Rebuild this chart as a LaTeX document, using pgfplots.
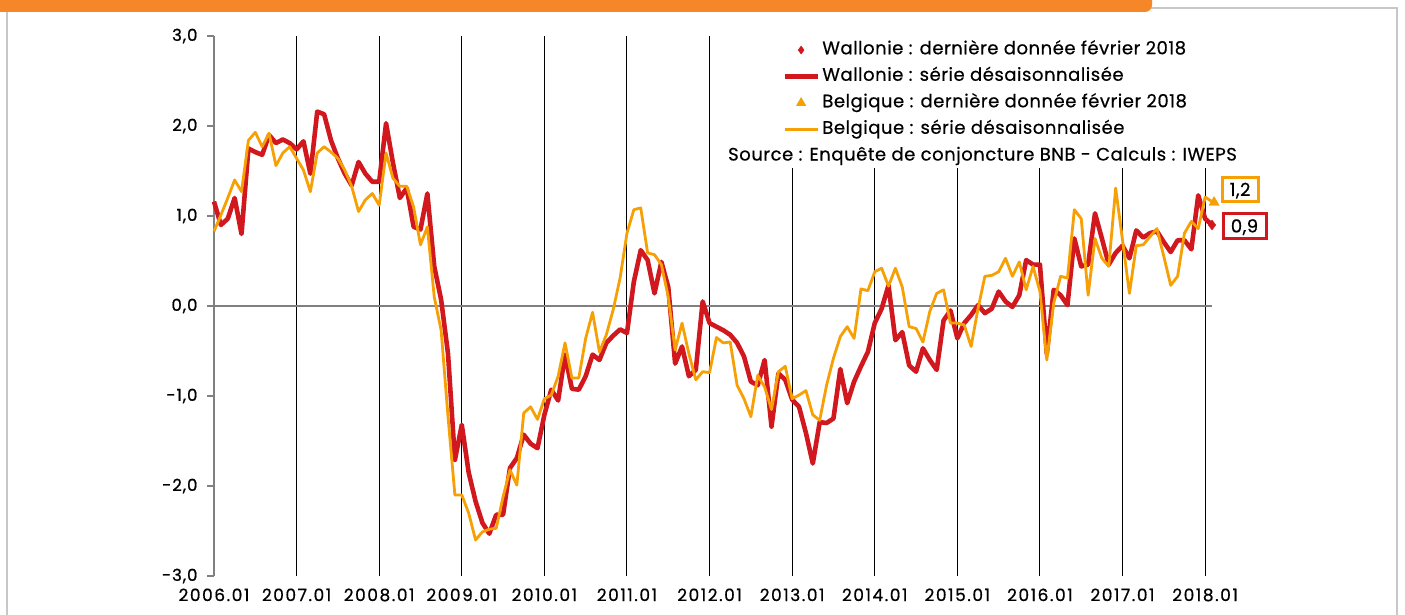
\documentclass[border=0pt]{standalone}
\usepackage{pgfplots}
\pgfplotsset{compat=1.18}
\usepackage{pgfplotstable}
\usepackage{fontspec}
\setmainfont{Poppins}[FakeBold=0.5]
\newfontfamily\legfont{Poppins}[FakeBold=0.5, LetterSpace=3]
\newfontfamily\xfont{Poppins}[FakeBold=0.6, LetterSpace=9]
\newfontfamily\yfont{Poppins}[FakeBold=0.9, LetterSpace=6]
\definecolor{wred}{RGB}{208,24,30}
\definecolor{borange}{RGB}{247,160,5}
\definecolor{barorange}{RGB}{245,135,40}

\pgfplotstableread{
i W B
0 1.16 0.83
1 0.90 1.01
2 0.97 1.20
3 1.20 1.40
4 0.80 1.27
5 1.75 1.84
6 1.71 1.93
7 1.68 1.77
8 1.90 1.92
9 1.81 1.56
10 1.85 1.70
11 1.81 1.77
12 1.74 1.64
13 1.83 1.51
14 1.47 1.27
15 2.16 1.70
16 2.13 1.77
17 1.84 1.71
18 1.64 1.64
19 1.47 1.51
20 1.34 1.33
21 1.60 1.05
22 1.47 1.18
23 1.38 1.25
24 1.38 1.12
25 2.03 1.70
26 1.59 1.42
27 1.20 1.33
28 1.31 1.33
29 0.88 1.10
30 0.85 0.68
31 1.25 0.88
32 0.44 0.10
33 0.07 -0.27
34 -0.53 -1.23
35 -1.71 -2.10
36 -1.32 -2.10
37 -1.85 -2.30
38 -2.17 -2.60
39 -2.41 -2.51
40 -2.53 -2.48
41 -2.32 -2.47
42 -2.32 -2.12
43 -1.80 -1.82
44 -1.69 -1.99
45 -1.43 -1.19
46 -1.53 -1.12
47 -1.58 -1.26
48 -1.21 -1.03
49 -0.93 -0.99
50 -1.05 -0.78
51 -0.54 -0.41
52 -0.92 -0.80
53 -0.93 -0.80
54 -0.78 -0.36
55 -0.54 -0.07
56 -0.60 -0.51
57 -0.41 -0.32
58 -0.33 -0.04
59 -0.26 0.31
60 -0.30 0.81
61 0.27 1.07
62 0.62 1.09
63 0.51 0.59
64 0.14 0.57
65 0.49 0.46
66 0.21 0.10
67 -0.64 -0.49
68 -0.45 -0.19
69 -0.78 -0.53
70 -0.71 -0.82
71 0.05 -0.73
72 -0.19 -0.74
73 -0.23 -0.35
74 -0.27 -0.41
75 -0.32 -0.40
76 -0.41 -0.88
77 -0.56 -1.03
78 -0.84 -1.23
79 -0.88 -0.77
80 -0.60 -0.90
81 -1.34 -1.15
82 -0.75 -0.73
83 -0.82 -0.67
84 -1.04 -1.03
85 -1.12 -0.99
86 -1.41 -0.94
87 -1.75 -1.21
88 -1.29 -1.27
89 -1.30 -0.88
90 -1.25 -0.58
91 -0.70 -0.34
92 -1.08 -0.23
93 -0.84 -0.36
94 -0.67 0.19
95 -0.51 0.17
96 -0.19 0.38
97 -0.03 0.42
98 0.23 0.22
99 -0.38 0.42
100 -0.29 0.21
101 -0.66 -0.23
102 -0.73 -0.25
103 -0.47 -0.40
104 -0.60 -0.06
105 -0.71 0.14
106 -0.16 0.18
107 -0.05 -0.19
108 -0.36 -0.19
109 -0.19 -0.21
110 -0.10 -0.45
111 0.01 -0.03
112 -0.08 0.33
113 -0.03 0.34
114 0.16 0.38
115 0.05 0.53
116 -0.01 0.33
117 0.12 0.49
118 0.51 0.18
119 0.46 0.44
120 0.46 0.16
121 -0.53 -0.60
122 0.18 0.03
123 0.12 0.33
124 0.01 0.31
125 0.75 1.07
126 0.44 0.97
127 0.46 0.12
128 1.03 0.75
129 0.75 0.53
130 0.46 0.44
131 0.59 1.31
132 0.67 0.73
133 0.53 0.14
134 0.84 0.67
135 0.76 0.68
136 0.81 0.77
137 0.83 0.86
138 0.71 0.55
139 0.60 0.23
140 0.73 0.33
141 0.73 0.81
142 0.63 0.94
143 1.23 0.86
144 0.97 1.21
145 0.90 1.16
}\data

\begin{document}
\begin{tikzpicture}[x=1pt,y=1pt]
\useasboundingbox (0,0) rectangle (1405,615);
\fill[white] (0,0) rectangle (1405,615);
\draw[black!22, line width=1.5pt] (7,-10) -- (7,607) -- (1397,607) -- (1397,-10);
\fill[barorange, rounded corners=7pt] (-10,603) rectangle (1152,630);
\begin{axis}[
  at={(214pt,39pt)}, anchor=south west,
  scale only axis, width=998pt, height=540pt,
  xmin=0, xmax=145, ymin=-3, ymax=3,
  clip=false,
  axis x line*=bottom, axis y line*=left,
  axis line style={-},
  x axis line style={draw=none},
  y axis line style={draw=gray, line width=1.6pt},
  xtick={0,12,...,144},
  xticklabels={2006.01,2007.01,2008.01,2009.01,2010.01,2011.01,2012.01,2013.01,2014.01,2015.01,2016.01,2017.01,2018.01},
  xtick style={draw=none},
  xmajorgrids, x grid style={black, line width=1pt},
  ytick={-3,-2,-1,0,1,2,3},
  yticklabels={{-3,0},{-2,0},{-1,0},{0,0},{1,0},{2,0},{3,0}},
  ytick style={gray, line width=1.6pt},
  tick align=outside, major tick length=7pt,
  yticklabel style={font=\yfont\fontsize{16.5}{18}\selectfont, xshift=-6pt},
  xticklabel style={font=\xfont\fontsize{17}{18}\selectfont, yshift=-2pt},
  extra y ticks={0}, extra y tick labels={},
  extra y tick style={ymajorgrids=true, major grid style={color=gray, line width=1.8pt}, tick style={draw=none}},
  legend style={at={(0.570,0.993)}, anchor=north west, draw=none, fill=none,
    inner sep=0pt, outer sep=0pt, row sep=6pt,
    font=\legfont\fontsize{18}{19}\selectfont,
    nodes={inner sep=2pt, text height=12.5pt, text depth=4pt}},
  legend cell align=left,
  legend image code/.code={\draw[mark repeat=2,mark phase=2,#1] plot coordinates {(0pt,0pt) (16pt,0pt) (33pt,0pt)};},
]
\fill[white] (axis cs:72.8,1.53) rectangle (axis cs:150,3.0);
\addlegendimage{only marks, mark=diamond*, mark size=4pt, wred}
\addlegendentry{Wallonie : dernière donnée février 2018}
\addlegendimage{wred, line width=4.5pt}
\addlegendentry{Wallonie : série désaisonnalisée}
\addlegendimage{only marks, mark=triangle*, mark size=5.5pt, borange}
\addlegendentry{Belgique : dernière donnée février 2018}
\addlegendimage{borange, line width=2.8pt}
\addlegendentry{Belgique : série désaisonnalisée}

\addplot[forget plot, wred, line width=4.6pt, line join=round, no marks] table[x=i,y=W]{\data};
\addplot[forget plot, borange, line width=2.8pt, line join=round, no marks] table[x=i,y=B]{\data};
\addplot[forget plot, only marks, mark=diamond*, mark size=5pt, wred,
  nodes near coords={0,9},
  every node near coord/.append style={anchor=center, xshift=32.5pt, yshift=-1.5pt,
    draw=wred, line width=3pt, fill=white, text=black, minimum width=43pt, minimum height=25pt,
    inner sep=0pt, text height=12pt, text depth=0pt, font=\legfont\fontsize{18}{19}\selectfont}]
  coordinates {(145,0.90)};
\addplot[forget plot, only marks, mark=triangle*, mark size=6pt, borange,
  nodes near coords={1,2},
  every node near coord/.append style={anchor=center, xshift=26pt, yshift=12.5pt,
    draw=borange, line width=3pt, fill=white, text=black, minimum width=36pt, minimum height=24pt,
    inner sep=0pt, text height=12pt, text depth=0pt, font=\legfont\fontsize{18}{19}\selectfont}]
  coordinates {(145.3,1.15)};
\end{axis}
\node[font=\legfont\fontsize{18}{19}\selectfont] at (982.5,459) {Source : Enquête de conjoncture BNB - Calculs : IWEPS};
\end{tikzpicture}
\end{document}
